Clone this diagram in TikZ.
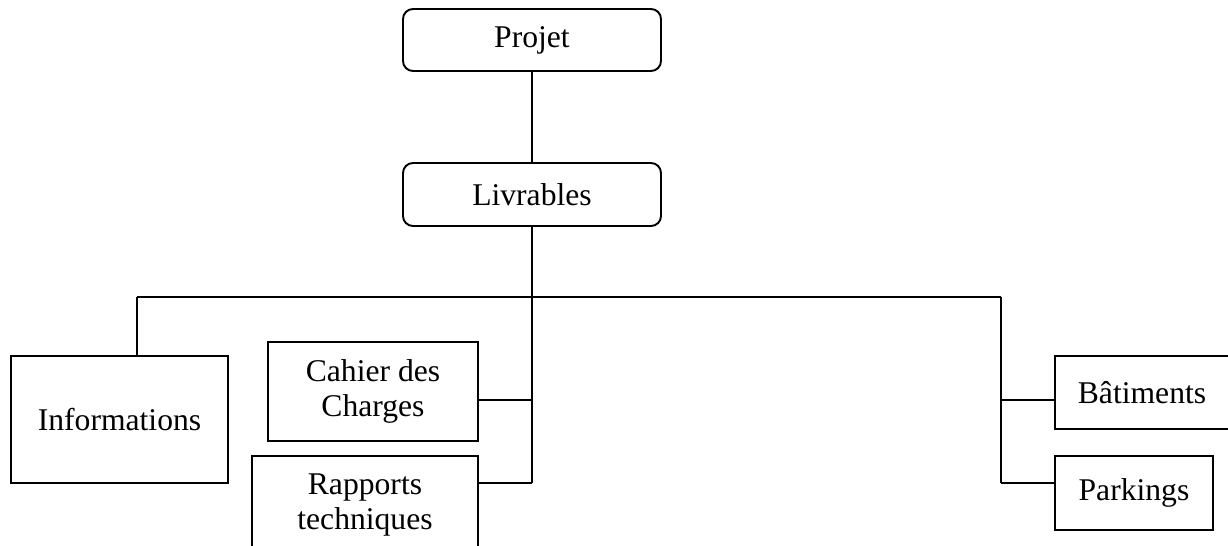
\documentclass[tikz,border=0pt]{standalone}
\usepackage{fontspec}
\setmainfont{Liberation Serif}
\begin{document}
\begin{tikzpicture}[x=0.02cm,y=-0.02cm,
  every node/.style={font=\fontsize{18}{20}\selectfont, align=center, inner sep=0pt},
  roundbox/.style={draw, line width=1.1pt, rounded corners=0.2cm, minimum width=258*0.02cm, minimum height=62*0.02cm},
  plainbox/.style={draw, line width=1.1pt},
  link/.style={line width=1.1pt}]
\useasboundingbox (0,0) rectangle (1228,546);

% top of the tree
\node[roundbox] (projet) at (532,40) {Projet};
\node[roundbox, minimum height=63*0.02cm] (livrables) at (532,194.5) {Livrables};

% deliverables
\node[plainbox, minimum width=217*0.02cm, minimum height=127*0.02cm] (info) at (119.5,419.5) {Informations};
\node[plainbox, minimum width=210*0.02cm, minimum height=99*0.02cm] (cahier) at (373,391.5) {Cahier des\\Charges};
\node[plainbox, minimum width=226*0.02cm, minimum height=98*0.02cm] (rapports) at (365,505) {Rapports\\techniques};
\node[plainbox, minimum width=174*0.02cm, minimum height=73*0.02cm] (batiments) at (1142,392.5) {B\^atiments};
\node[plainbox, minimum width=158*0.02cm, minimum height=74*0.02cm] (parkings) at (1134,493) {Parkings};

% junction points
\coordinate (busL) at (137,297);
\coordinate (busR) at (1001,297);
\coordinate (spine) at (532,483);
\coordinate (cj) at (532,400);
\coordinate (rj) at (1001,483);
\coordinate (bj) at (1001,400);

% connectors
\draw[link] (projet.south) -- (livrables.north);
\draw[link] (livrables.south) -- (spine);
\draw[link] (busL) -- (busR);
\draw[link] (busL) -- (busL |- info.north);
\draw[link] (cj) -- (cj -| cahier.east);
\draw[link] (spine) -- (spine -| rapports.east);
\draw[link] (busR) -- (rj);
\draw[link] (bj) -- (bj -| batiments.west);
\draw[link] (rj) -- (rj -| parkings.west);
\end{tikzpicture}
\end{document}
